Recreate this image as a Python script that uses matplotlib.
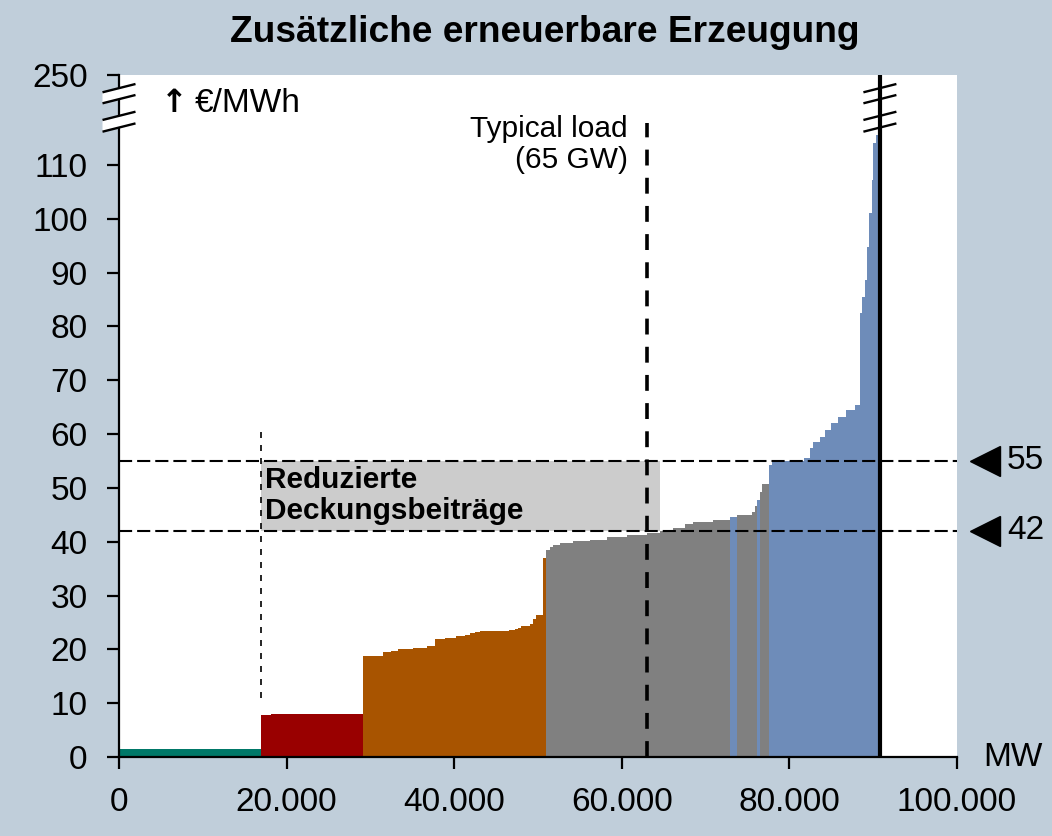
import matplotlib
matplotlib.use("Agg")
import matplotlib.pyplot as plt
import numpy as np
from matplotlib.patches import Polygon, Rectangle
from matplotlib.ticker import FixedLocator, FuncFormatter
from matplotlib.transforms import blended_transform_factory

# merit order blocks: left edge in MW, price in EUR/MWh, technology
BLOCK_EDGES = [
    0, 16950, 18100,
    29100, 31500, 32400, 33300, 35100, 36700, 37700, 38900, 40200, 41300,
    41900, 42500, 43100, 46500, 47200, 47600, 48000, 49000, 49400, 49800, 50600,
    51000, 51400, 51800, 52600, 54200, 56200, 58200, 60600, 63000, 64600,
    66100, 67500, 68500, 70900, 72900, 73800, 75500, 75900, 76100, 76500, 76700,
    77600, 77900, 81700, 82500, 82800, 83600, 84300, 85000, 85800, 86800, 87800,
    88400, 88700, 89000, 89300, 89500, 89800, 90000, 90300,
    90800,
]
BLOCK_PRICE = [
    1.4, 7.75, 7.95,
    18.8, 19.5, 19.75, 20.05, 20.3, 20.6, 22.0, 22.1, 22.4, 22.7,
    23.0, 23.2, 23.5, 23.6, 23.85, 24.0, 24.4, 24.8, 25.6, 26.3, 36.9,
    38.5, 39.1, 39.4, 39.8, 40.1, 40.4, 40.8, 41.2, 41.6, 42.05,
    42.55, 43.35, 43.65, 43.95, 44.65, 44.95, 45.6, 46.6, 47.75, 49.3, 50.8,
    54.25, 54.9, 55.6, 57.35, 58.6, 59.5, 60.75, 62.0, 63.2, 64.5, 65.4,
    82.4, 85.5, 88.6, 94.8, 101.0, 107.2, 114.0, 115.6,
]
BLOCK_TECH = (
    ["hydro"] + ["nuclear"] * 2 + ["lignite"] * 21
    + ["coal"] * 14 + ["gas", "coal", "coal", "coal", "gas", "coal", "coal"]
    + ["gas"] * 19
)

TECH_COLORS = {
    "hydro": "#007868",
    "nuclear": "#990000",
    "lignite": "#a85400",
    "coal": "#808080",
    "gas": "#6e8cb9",
}

Y_TICKS = [0, 10, 20, 30, 40, 50, 60, 70, 80, 90, 100, 110, 250]
X_TICKS = [0, 20000, 40000, 60000, 80000, 100000]
PRICE_LEVELS = [55, 42]
LOAD_MW = 63000
LOAD_TOP = 117.8
CAPACITY_MW = 90800
BOX_X = (16950, 64600)
BOX_Y = (42, 55)
MARKER_LINE_Y = (11, 61.7)

BG = "#c0ceda"
BREAK_AT = 120.0
SQUEEZE = (126.7 - BREAK_AT) / (250 - BREAK_AT)


def fwd(v):
    v = np.asarray(v, dtype=float)
    return np.where(v <= BREAK_AT, v, BREAK_AT + (v - BREAK_AT) * SQUEEZE)


def inv(u):
    u = np.asarray(u, dtype=float)
    return np.where(u <= BREAK_AT, u, BREAK_AT + (u - BREAK_AT) / SQUEEZE)


def draw_break(ax, xc, fill):
    # two "//" marks, coordinates in axes fraction (axes is 838 x 682 px)
    px_x, px_y = 1 / 838, 1 / 682
    hw = 16.5 * px_x
    rise = 8.3 * px_y
    for top_py, bot_py in [(92.3, 103.3), (120.0, 131.7)]:
        y1 = (757 - top_py) * px_y
        y2 = (757 - bot_py) * px_y
        if fill:
            ax.add_patch(Polygon(
                [(xc - hw, y1), (xc + hw, y1 + rise), (xc + hw, y2 + rise), (xc - hw, y2)],
                closed=True, facecolor="white", edgecolor="none",
                transform=ax.transAxes, clip_on=False, zorder=6))
        for yy in (y1, y2):
            ax.plot([xc - hw, xc + hw], [yy, yy + rise], color="black", lw=1.7,
                    transform=ax.transAxes, clip_on=False, zorder=7,
                    solid_capstyle="butt")


plt.rcParams["font.family"] = ["Liberation Sans", "DejaVu Sans"]

fig = plt.figure(figsize=(10.52, 8.36), dpi=100, facecolor=BG)
ax = fig.add_axes([119 / 1052, 79 / 836, 838 / 1052, 682 / 836])
ax.set_facecolor("white")
ax.set_yscale("function", functions=(fwd, inv))
ax.set_xlim(0, 100000)
ax.set_ylim(0, 250)

# grey box behind the curve
ax.add_patch(Rectangle((BOX_X[0], BOX_Y[0]), BOX_X[1] - BOX_X[0], BOX_Y[1] - BOX_Y[0],
                       facecolor="#cccccc", edgecolor="none", zorder=1))

# merit order curve, one filled step run per technology group
edges = np.array(BLOCK_EDGES, dtype=float)
prices = np.array(BLOCK_PRICE, dtype=float)
start = 0
for i in range(1, len(BLOCK_TECH) + 1):
    if i == len(BLOCK_TECH) or BLOCK_TECH[i] != BLOCK_TECH[start]:
        ax.stairs(prices[start:i], edges[start:i + 1], fill=True, baseline=0,
                  color=TECH_COLORS[BLOCK_TECH[start]], lw=0, zorder=2)
        start = i

for lvl in PRICE_LEVELS:
    ax.axhline(lvl, color="black", lw=1.5, ls=(0, (6.3, 2.4)), zorder=4)

ax.vlines(LOAD_MW, 0, LOAD_TOP, color="black", lw=2.6, linestyles=(0, (4.4, 3.4)), zorder=5)
ax.vlines(CAPACITY_MW, 0, 250, color="black", lw=3.0, zorder=5)
ax.vlines(BOX_X[0], MARKER_LINE_Y[0], MARKER_LINE_Y[1], color="black", lw=1.2,
          linestyles=(0, (3.6, 4.2)), zorder=4)

ax.text(17450, 48.6, "Reduzierte\nDeckungsbeiträge", fontsize=21.4, fontweight="bold",
        ha="left", va="center", linespacing=1.15, zorder=6)
ax.text((628 - 119) / 838, (757 - 144.5) / 682, "Typical load\n(65 GW)",
        transform=ax.transAxes, fontsize=21.5, ha="right", va="center",
        multialignment="right", linespacing=1.15)
ax.text((161 - 119) / 838, (757 - 104) / 682, "↑", transform=ax.transAxes,
        fontsize=23, family="DejaVu Sans", fontweight="bold", ha="left", va="center")
ax.text((195 - 119) / 838, (757 - 103) / 682, "€/MWh", transform=ax.transAxes,
        fontsize=24, ha="left", va="center")
ax.text((1013 - 119) / 838, 0.0, "MW", transform=ax.transAxes, fontsize=24,
        ha="center", va="center", clip_on=False)

side = blended_transform_factory(ax.transAxes, ax.transData)
for lvl in PRICE_LEVELS:
    ax.plot([(985 - 119) / 838], [lvl], marker="<", ms=21, color="black",
            transform=side, clip_on=False, zorder=6)
    ax.text((1007 - 119) / 838, lvl, str(lvl), transform=side, fontsize=24,
            ha="left", va="center", clip_on=False)

# axes styling
for s in ("top", "right"):
    ax.spines[s].set_visible(False)
for s in ("left", "bottom"):
    ax.spines[s].set_linewidth(1.6)
ax.yaxis.set_major_locator(FixedLocator(Y_TICKS))
ax.yaxis.set_minor_locator(FixedLocator([]))
ax.xaxis.set_major_locator(FixedLocator(X_TICKS))
ax.xaxis.set_major_formatter(FuncFormatter(lambda v, p: f"{int(v):,}".replace(",", ".")))
ax.yaxis.set_major_formatter(FuncFormatter(lambda v, p: f"{int(round(v))}"))
ax.tick_params(axis="both", direction="out", length=8.5, width=1.6, labelsize=24)
ax.tick_params(axis="x", pad=13)
ax.tick_params(axis="y", pad=14)

draw_break(ax, 0.0, fill=True)
draw_break(ax, CAPACITY_MW / 100000, fill=False)

fig.text(545 / 1052, 1 - 32 / 836, "Zusätzliche erneuerbare Erzeugung", fontsize=26.7,
         fontweight="bold", ha="center", va="center")

fig.savefig("out.png", dpi=100, facecolor=BG)
